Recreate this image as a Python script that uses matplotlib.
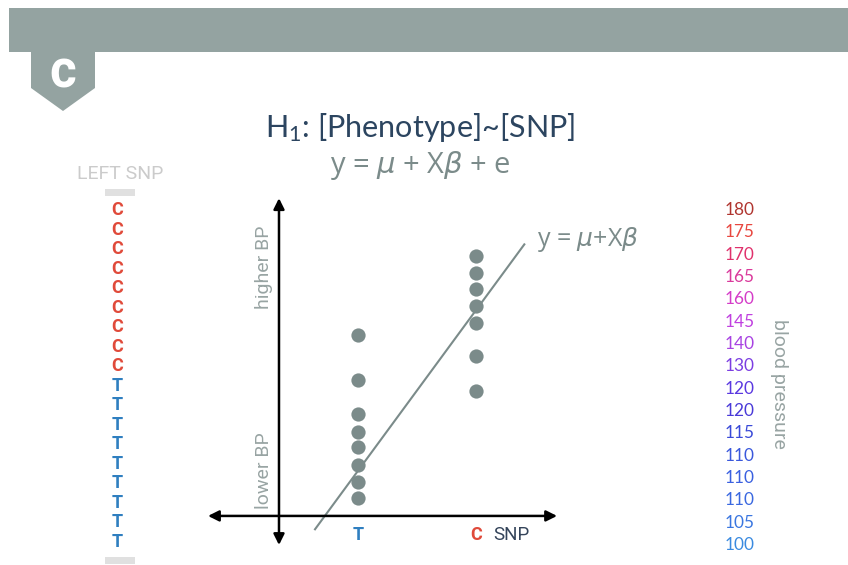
import numpy as np
import matplotlib
matplotlib.use("Agg")
import matplotlib.pyplot as plt
from matplotlib.patches import Rectangle, Polygon

# figure size in pixels
W, H = 848, 565

# data
left_snp = ["C"] * 9 + ["T"] * 9
bp_values = [180, 175, 170, 165, 160, 145, 140, 130, 120, 120, 115, 110, 110, 110, 105, 100]
bp_colors = ["#b0352f", "#e8473f", "#e0316c", "#da3a9c", "#d43cc8", "#c040e0", "#a842e2",
             "#7c3ee2", "#5a38e0", "#4a3ad8", "#3a4ad8", "#3a58dc", "#3a60e0", "#3a68e0",
             "#3a76e0", "#3a8ae0"]

genotypes = ["T", "C"]
geno_x = {"T": 1, "C": 2}
bp_T = [154, 139, 128, 122, 117, 111, 105.5, 100]
bp_C = [180, 174.5, 169, 163.5, 158, 147, 135.5]

# fitted line y = mu + X*beta
mu, beta = 56.2, 52.9
line_x = [0.635, 2.413]

snp_red = "#e04a3a"
snp_blue = "#2f7fc0"
grey = "#7b8b8a"
label_grey = "#98a4a3"
navy = "#2c4560"
banner = "#94a3a1"

plt.rcParams["mathtext.default"] = "regular"

fig = plt.figure(figsize=(W / 100, H / 100), dpi=100)
fig.patch.set_facecolor("white")


def fx(x):
    return x / W


def fy(y):
    return 1 - y / H


# banner + tab
fig.add_artist(Rectangle((fx(9), fy(52)), fx(W) - fx(9), fy(8) - fy(52),
                         transform=fig.transFigure, color=banner, lw=0))
fig.add_artist(Polygon([(fx(31), fy(51)), (fx(95), fy(51)), (fx(95), fy(88)),
                        (fx(63), fy(111)), (fx(31), fy(88))],
                       transform=fig.transFigure, color=banner, lw=0))
fig.text(fx(63), fy(74), "c", color="white", fontsize=37, fontweight="bold",
         family="Roboto", ha="center", va="center")

# titles
fig.text(fx(420), fy(127), "H$_1$: [Phenotype]~[SNP]", color=navy, fontsize=22,
         family="Lato", ha="center", va="center")
fig.text(fx(420), fy(165), r"y = $\it{\mu}$ + X$\it{\beta}$ + e", color=grey, fontsize=21,
         family="Open Sans", ha="center", va="center")

# left SNP column
fig.text(fx(120), fy(174), "LEFT SNP", color="#cbcbcb", fontsize=14, family="Roboto",
         ha="center", va="center")
fig.add_artist(Rectangle((fx(105), fy(196)), fx(30), fy(0) - fy(7),
                         transform=fig.transFigure, color="#e0e0e0", lw=0))
fig.add_artist(Rectangle((fx(105), fy(564)), fx(30), fy(0) - fy(7),
                         transform=fig.transFigure, color="#e0e0e0", lw=0))
snp_y = np.linspace(210, 542, len(left_snp))
for s, y in zip(left_snp, snp_y):
    fig.text(fx(117), fy(y), s, color=snp_red if s == "C" else snp_blue, fontsize=13,
             fontweight="bold", family="Roboto", ha="center", va="center")

# blood pressure column
bp_y = np.linspace(210, 545, len(bp_values))
for v, c, y in zip(bp_values, bp_colors, bp_y):
    fig.text(fx(739.5), fy(y), str(v), color=c, fontsize=12.4, family="Lato",
             ha="center", va="center")
fig.text(fx(779), fy(384), "blood pressure", color=label_grey, fontsize=14,
         family="Roboto", rotation=-90, ha="center", va="center")

# main plot
ax = fig.add_axes([fx(200), fy(555), fx(370), fy(190) - fy(555)])
ax.set_xlim(-0.342, 2.801)
ax.set_ylim(81.3, 201.8)
ax.axis("off")

x0, y0 = 0.329, 94.2
arrow = dict(arrowstyle="<|-|>", color="black", lw=1.8, mutation_scale=16,
             shrinkA=0, shrinkB=0)
ax.annotate("", xy=(2.691, y0), xytext=(-0.274, y0), arrowprops=arrow)
ax.annotate("", xy=(x0, 199.1), xytext=(x0, 84.6), arrowprops=arrow)

lx = np.array(line_x)
ax.plot(lx, mu + beta * lx, color=grey, lw=1.5, zorder=2)

ax.scatter([geno_x["T"]] * len(bp_T), bp_T, s=105, color=grey, lw=0, zorder=3)
ax.scatter([geno_x["C"]] * len(bp_C), bp_C, s=105, color=grey, lw=0, zorder=3)

ax.text(2.52, 185.3, r"y = $\it{\mu}$+X$\it{\beta}$", color=grey, fontsize=18,
        family="Open Sans", ha="left", va="center")

ax.text(geno_x["T"], 87.9, "T", color=snp_blue, fontsize=13, fontweight="bold",
        family="Roboto", ha="center", va="center")
ax.text(geno_x["C"], 87.9, "C", color=snp_red, fontsize=13, fontweight="bold",
        family="Roboto", ha="center", va="center")
ax.text(2.3, 87.9, "SNP", color="#34445a", fontsize=13.5, family="Roboto",
        ha="center", va="center")

ax.text(0.2, 176.2, "higher BP", color=label_grey, fontsize=14, family="Roboto",
        rotation=90, ha="center", va="center")
ax.text(0.2, 109.0, "lower BP", color=label_grey, fontsize=14, family="Roboto",
        rotation=90, ha="center", va="center")

fig.savefig("out.png", dpi=100, facecolor="white")
